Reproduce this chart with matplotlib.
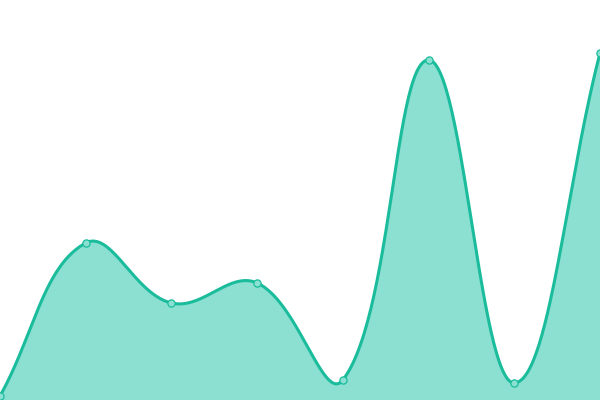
import numpy as np
import matplotlib
matplotlib.use("Agg")
import matplotlib.pyplot as plt

# data (y axis 0..400)
x_idx = [0, 1, 2, 3, 4, 5, 6, 7]
values = [4, 157, 97, 117, 20, 340, 17, 347]

LINE = "#1abc9c"
FILL = "#8be0d1"
TENSION = 0.4


def spline_controls(pts, t):
    # chart.js style control points (done in pixel space)
    n = len(pts)
    ctrl = []
    for i in range(n):
        prev = pts[i - 1] if i > 0 else pts[i]
        cur = pts[i]
        nxt = pts[i + 1] if i < n - 1 else pts[i]
        d01 = np.hypot(*(cur - prev))
        d12 = np.hypot(*(nxt - cur))
        tot = d01 + d12
        s01 = d01 / tot if tot else 0
        s12 = d12 / tot if tot else 0
        fa = t * s01
        fb = t * s12
        c_prev = cur - fa * (nxt - prev)
        c_next = cur + fb * (nxt - prev)
        ctrl.append((c_prev, c_next))
    return ctrl


fig = plt.figure(figsize=(6, 4), dpi=100)
ax = fig.add_axes([0, 0, 1, 1])
ax.set_xlim(0, 7)
ax.set_ylim(0, 400)
ax.axis("off")

pix = ax.transData.transform(np.column_stack([x_idx, values]).astype(float))
ctrl = spline_controls(pix, TENSION)
tt = np.linspace(0, 1, 60)[:, None]
curve = [pix[:1]]
for i in range(len(pix) - 1):
    p0, p3 = pix[i], pix[i + 1]
    p1, p2 = ctrl[i][1], ctrl[i + 1][0]
    seg = ((1 - tt) ** 3) * p0 + 3 * ((1 - tt) ** 2) * tt * p1 + 3 * (1 - tt) * tt ** 2 * p2 + tt ** 3 * p3
    curve.append(seg[1:])
curve = np.vstack(curve)
data_curve = ax.transData.inverted().transform(curve)

ax.fill_between(data_curve[:, 0], data_curve[:, 1], 0, color=FILL, lw=0)
ax.plot(data_curve[:, 0], data_curve[:, 1], color=LINE, lw=2.2, solid_capstyle="round")
ax.plot(x_idx, values, "o", ms=5.2, mfc=FILL, mec=LINE, mew=0.9)

fig.savefig("out.png", dpi=100)
